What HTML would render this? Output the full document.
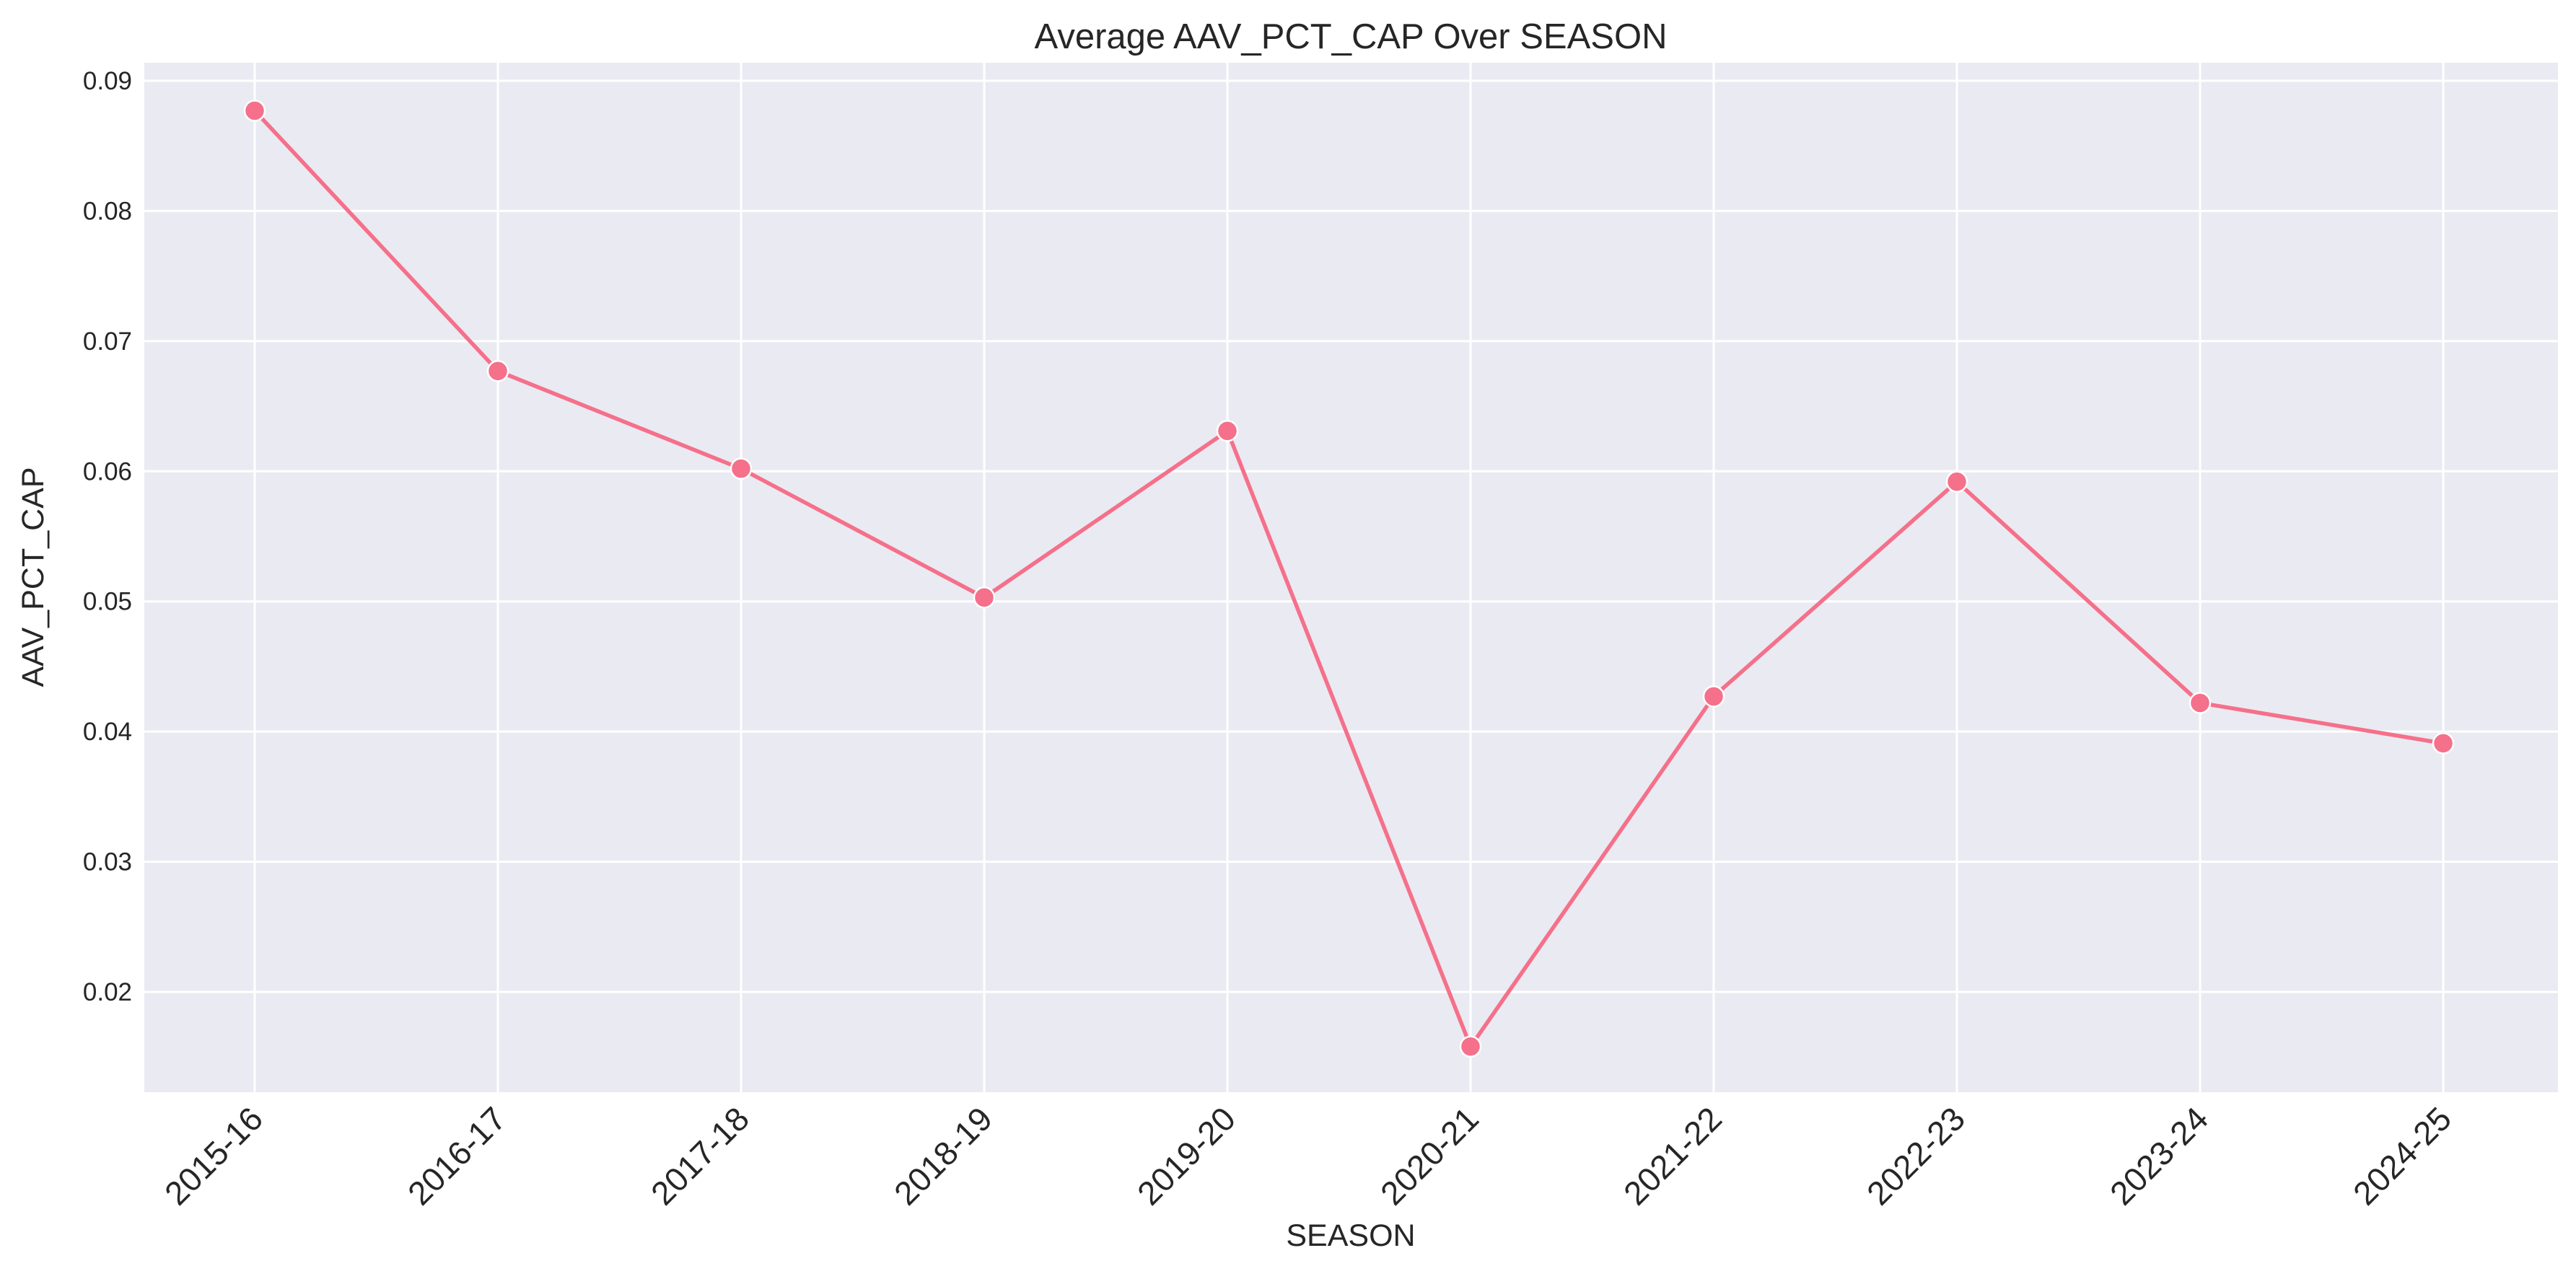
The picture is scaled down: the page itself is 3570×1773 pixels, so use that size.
<!DOCTYPE html>
<html><head><meta charset="utf-8"><style>
html,body{margin:0;padding:0;background:#fff;}
svg text{font-family:"Liberation Sans",Arial,sans-serif;fill:#262626;}
</style></head><body>
<svg id="chart" width="3570" height="1768" xmlns="http://www.w3.org/2000/svg">
<rect x="200" y="87" width="3345" height="1427" fill="#eaeaf2"/>
<g id="grid"></g>
<g id="ticks"></g>
<g id="series"></g>
<text x="1872" y="67" font-size="49" text-anchor="middle">Average AAV_PCT_CAP Over SEASON</text>
<text x="1872" y="1727" font-size="43" text-anchor="middle">SEASON</text>
<text transform="translate(60,800) rotate(-90)" font-size="43" text-anchor="middle">AAV_PCT_CAP</text>
</svg>
<script>
const categories = ["2015-16","2016-17","2017-18","2018-19","2019-20","2020-21","2021-22","2022-23","2023-24","2024-25"];
const values = [0.0877,0.0677,0.0602,0.0503,0.0631,0.0158,0.0427,0.0592,0.0422,0.0391];
const yTicks = [0.02,0.03,0.04,0.05,0.06,0.07,0.08,0.09];
const yTickLabels = ["0.02","0.03","0.04","0.05","0.06","0.07","0.08","0.09"];

const NS="http://www.w3.org/2000/svg";
const L=200,R=3545,T=87,B=1514;
const x0=353, x1=3386;
function xs(i){return x0+(x1-x0)*i/(categories.length-1);}
const y09=112, y02=1375;
function ys(v){return y02+(v-0.02)*(y09-y02)/0.07;}
function mk(tag,attrs,parent){const e=document.createElementNS(NS,tag);for(const k in attrs)e.setAttribute(k,attrs[k]);parent.appendChild(e);return e;}
const grid=document.getElementById('grid'),ticks=document.getElementById('ticks'),series=document.getElementById('series');
yTicks.forEach((v,i)=>{
  const y=ys(v);
  const g=mk('line',{x1:L,x2:R,y1:y,y2:y,stroke:'#fff','stroke-width':3},grid);
  
  
  const t=mk('text',{x:183,y:y+12,'font-size':35,'text-anchor':'end'},ticks);
  t.textContent=yTickLabels[i];
  
  
});
categories.forEach((c,i)=>{
  const x=xs(i);
  const g=mk('line',{x1:x,x2:x,y1:T,y2:B,stroke:'#fff','stroke-width':3},grid);
  
  
  const t=mk('text',{x:0,y:0,'font-size':46,'text-anchor':'end',transform:`translate(${x+14},${B+40}) rotate(-45)`},ticks);
  t.textContent=c;
  
  
});
const pts=values.map((v,i)=>xs(i)+','+ys(v)).join(' ');
const pl=mk('polyline',{points:pts,fill:'none',stroke:'#f5708a','stroke-width':5.5,'stroke-linejoin':'round'},series);


values.forEach((v,i)=>{
  const c=mk('circle',{cx:xs(i),cy:ys(v),r:14,fill:'#f5708a',stroke:'#fff','stroke-width':2.5},series);
  
  
});
</script>
</body></html>
